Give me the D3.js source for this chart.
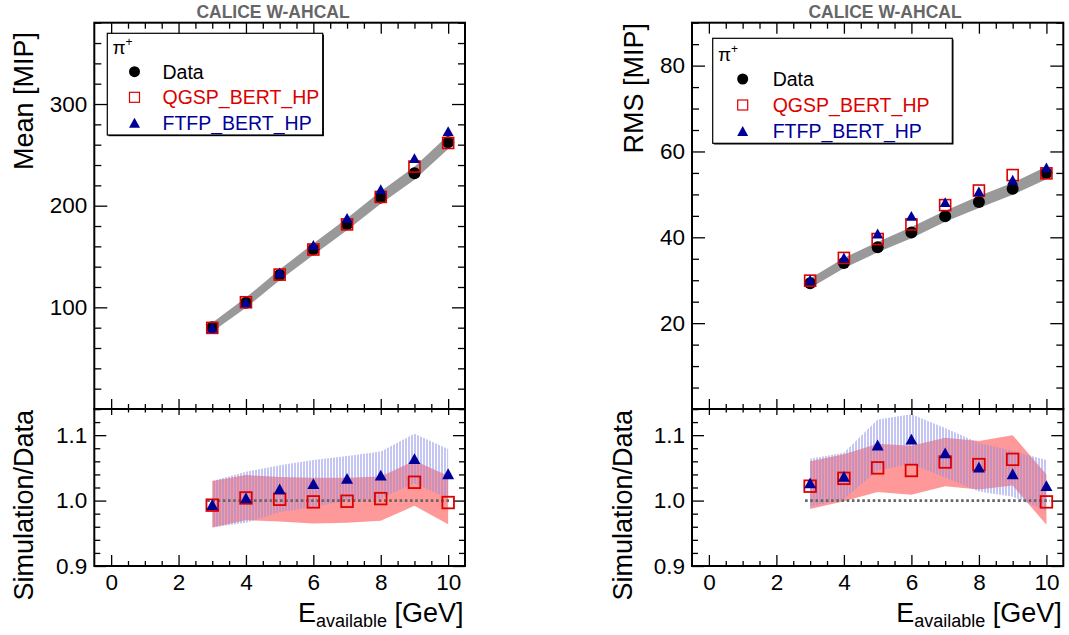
<!DOCTYPE html>
<html><head><meta charset="utf-8">
<script src="https://cdn.jsdelivr.net/npm/d3@7"></script>
<style>
html,body{margin:0;padding:0;background:#fff;}
text{font-family:"Liberation Sans",Arial,Helvetica,sans-serif;}
</style></head>
<body>
<svg id="c" width="1069" height="635"></svg>
<script>
// ---------------- data ----------------
const energies = [3, 4, 5, 6, 7, 8, 9, 10];

// Mean [MIP]
const meanData    = [80.4, 104.6, 131.9, 157.2, 181.8, 208.0, 232.0, 262.5];
const meanDataErr = [4.5, 5.0, 5.3, 5.6, 5.9, 6.2, 6.4, 6.7];
const meanQGSP    = [79.8, 105.0, 132.2, 156.9, 181.6, 208.6, 238.5, 261.7];
const meanFTFP    = [79.9, 105.0, 134.3, 161.3, 188.0, 216.1, 246.8, 273.3];

// RMS [MIP]
const rmsData    = [29.3, 34.0, 37.7, 41.1, 44.9, 48.2, 51.3, 55.0];
const rmsDataErr = [1.1, 1.2, 1.2, 1.3, 1.3, 1.4, 1.4, 1.5];
const rmsQGSP    = [29.9, 35.2, 39.6, 43.0, 47.5, 50.9, 54.5, 54.9];
const rmsFTFP    = [30.1, 35.3, 40.9, 45.0, 48.2, 50.7, 53.4, 56.3];

// Simulation / Data ratios (Mean)
const meanRatioQGSP   = [0.993, 1.004, 1.002, 0.998, 0.999, 1.003, 1.028, 0.997];
const meanRatioQGSPLo = [0.959, 0.970, 0.968, 0.965, 0.966, 0.969, 0.992, 0.964];
const meanRatioQGSPHi = [1.030, 1.039, 1.036, 1.035, 1.035, 1.037, 1.061, 1.038];
const meanRatioFTFP   = [0.994, 1.004, 1.018, 1.026, 1.034, 1.039, 1.064, 1.041];
const meanRatioFTFPLo = [0.959, 0.966, 0.982, 0.990, 1.000, 1.003, 1.026, 1.003];
const meanRatioFTFPHi = [1.030, 1.044, 1.054, 1.062, 1.068, 1.075, 1.102, 1.079];

// Simulation / Data ratios (RMS)
const rmsRatioQGSP   = [1.022, 1.034, 1.050, 1.046, 1.059, 1.055, 1.063, 0.998];
const rmsRatioQGSPLo = [0.987, 0.999, 1.013, 1.009, 1.022, 1.017, 1.023, 0.963];
const rmsRatioQGSPHi = [1.060, 1.071, 1.087, 1.084, 1.096, 1.091, 1.100, 1.040];
const rmsRatioFTFP   = [1.027, 1.037, 1.085, 1.094, 1.073, 1.051, 1.041, 1.023];
const rmsRatioFTFPLo = [0.991, 1.002, 1.046, 1.056, 1.035, 1.014, 1.006, 0.984];
const rmsRatioFTFPHi = [1.064, 1.073, 1.124, 1.132, 1.111, 1.088, 1.076, 1.062];

// axes / labels
const xTicks = [0, 2, 4, 6, 8, 10];
const meanTicks = [100, 200, 300];
const rmsTicks = [20, 40, 60, 80];
const ratioTicks = [0.9, 1.0, 1.1];
const ratioTickLabels = ["0.9", "1.0", "1.1"];
const headerText = "CALICE W-AHCAL";
const legendLabels = ["Data", "QGSP_BERT_HP", "FTFP_BERT_HP"];

// ---------------- drawing ----------------
const svg = d3.select("#c");
const FONT = '"Liberation Sans",Arial,Helvetica,sans-serif';
const RED = "#dd0000", BLUE = "#000099", BAND = "#999999";

const defs = svg.append("defs");
const pat = defs.append("pattern").attr("id","hatch").attr("patternUnits","userSpaceOnUse")
  .attr("width",3).attr("height",4);
pat.append("line").attr("x1",1).attr("x2",1).attr("y1",0).attr("y2",4)
  .attr("stroke","#8c8ce8").attr("stroke-width",1);

const TOP = 22.7, MID = 409, BOT = 566;

const panels = [
  { left: 94.3, right: 465, headerX: 273,
    yDomain: [0, 380], yMajor: meanTicks, yMinorStep: 20, yTitle: "Mean [MIP]",
    yTitleX: 33, yTitleY: 32, rTitleX: 33, rTitleY: 410,
    data: meanData, dataErr: meanDataErr, qgsp: meanQGSP, ftfp: meanFTFP,
    rq: meanRatioQGSP, rqLo: meanRatioQGSPLo, rqHi: meanRatioQGSPHi,
    rf: meanRatioFTFP, rfLo: meanRatioFTFPLo, rfHi: meanRatioFTFPHi,
    legend: {x: 107.3, y: 33.3, w: 215.4, h: 101.7, piX: 112.5, piY: 53.5, mX: 134.5, tX: 162.5, rows: [71.7, 97.3, 122.7]} },
  { left: 692, right: 1063.3, headerX: 885,
    yDomain: [0, 90], yMajor: rmsTicks, yMinorStep: 5, yTitle: "RMS [MIP]",
    yTitleX: 643, yTitleY: 23, rTitleX: 632, rTitleY: 410,
    data: rmsData, dataErr: rmsDataErr, qgsp: rmsQGSP, ftfp: rmsFTFP,
    rq: rmsRatioQGSP, rqLo: rmsRatioQGSPLo, rqHi: rmsRatioQGSPHi,
    rf: rmsRatioFTFP, rfLo: rmsRatioFTFPLo, rfHi: rmsRatioFTFPHi,
    legend: {x: 712.7, y: 38.3, w: 239.6, h: 105, piX: 718, piY: 60.5, mX: 742.7, tX: 772.7, rows: [79, 105, 131]} }
];

function minorVals(d0, d1, step, major){
  return d3.range(d0, d1 + step*0.01, step).filter(v => !major.some(m => Math.abs(m - v) < step*0.01));
}

function styleAxis(g, size){
  g.select(".domain").remove();
  g.selectAll(".tick line").attr("stroke","#000").attr("stroke-width",1.3);
  g.selectAll(".tick text").attr("font-size", size).attr("fill","#000").attr("font-family",FONT);
}

function triPath(cx, cy, s){
  const h = s*0.9;
  return `M${cx-s/2},${cy+h/2}L${cx+s/2},${cy+h/2}L${cx},${cy-h/2}Z`;
}

panels.forEach(p => {
  const x = d3.scaleLinear().domain([-0.5, 10.5]).range([p.left, p.right]);
  const y = d3.scaleLinear().domain(p.yDomain).range([MID, TOP]);
  const yr = d3.scaleLinear().domain([0.9, 1.14]).range([BOT, MID]);
  const xMinor = minorVals(-0.5, 10.5, 0.5, xTicks).filter(v => v > -0.5 && v < 10.5);
  const g = svg.append("g");

  // header
  g.append("text").attr("x", p.headerX).attr("y", 17.5).attr("text-anchor","middle")
    .attr("font-size", 17.5).attr("font-weight","bold").attr("fill","#666").text(headerText);

  // ---- top panel: data band ----
  const area = d3.area().x((d,i) => x(energies[i]))
    .y0((d,i) => y(p.data[i] - p.dataErr[i])).y1((d,i) => y(p.data[i] + p.dataErr[i]));
  g.append("path").attr("d", area(p.data)).attr("fill", BAND);

  // ---- ratio panel bands ----
  const rArea = (lo, hi) => d3.area().x((d,i) => x(energies[i])).y0((d,i) => yr(lo[i])).y1((d,i) => yr(hi[i]))(energies);
  g.append("path").attr("d", rArea(p.rqLo, p.rqHi)).attr("fill", "#ff9999");
  g.append("path").attr("d", rArea(p.rfLo, p.rfHi)).attr("fill", "url(#hatch)");
  g.append("line").attr("x1", x(2.85)).attr("x2", x(10.1)).attr("y1", yr(1.0)).attr("y2", yr(1.0))
    .attr("stroke","#666").attr("stroke-width",2.6).attr("stroke-dasharray","2.6,2.6");

  // ---- axes: top panel ----
  const ax = (gen, tx, ty, vals, size, fmt, font) => {
    const a = g.append("g").attr("transform", `translate(${tx},${ty})`)
      .call(gen.tickValues(vals).tickSize(size).tickPadding(7).tickFormat(fmt));
    styleAxis(a, font || 22.5);
    return a;
  };
  const none = () => "";
  // y left / right
  ax(d3.axisLeft(y), p.left, 0, p.yMajor, -13, d3.format("d"));
  ax(d3.axisLeft(y), p.left, 0, minorVals(p.yDomain[0], p.yDomain[1], p.yMinorStep, p.yMajor), -7, none);
  ax(d3.axisRight(y), p.right, 0, p.yMajor, -13, none);
  ax(d3.axisRight(y), p.right, 0, minorVals(p.yDomain[0], p.yDomain[1], p.yMinorStep, p.yMajor), -7, none);
  // x top & bottom of top panel
  ax(d3.axisTop(x), 0, TOP, xTicks, -11, none);
  ax(d3.axisTop(x), 0, TOP, xMinor, -6, none);
  ax(d3.axisBottom(x), 0, MID, xTicks, -10, none);
  ax(d3.axisBottom(x), 0, MID, xMinor, -5, none);

  // ---- axes: ratio panel ----
  const rMinor = minorVals(0.9, 1.14, 0.02, ratioTicks);
  ax(d3.axisLeft(yr), p.left, 0, ratioTicks, -12, (d,i) => ratioTickLabels[i]);
  ax(d3.axisLeft(yr), p.left, 0, rMinor, -6, none);
  ax(d3.axisRight(yr), p.right, 0, ratioTicks, -12, none);
  ax(d3.axisRight(yr), p.right, 0, rMinor, -6, none);
  ax(d3.axisTop(x), 0, MID, xTicks, -6, none);
  ax(d3.axisTop(x), 0, MID, xMinor, -3.5, none);
  ax(d3.axisBottom(x), 0, BOT, xTicks, -11, d3.format("d")).selectAll(".tick text").attr("dy","0.71em").attr("y", 8);
  ax(d3.axisBottom(x), 0, BOT, xMinor, -5, none);

  // frames
  g.append("rect").attr("x", p.left).attr("y", TOP).attr("width", p.right - p.left).attr("height", MID - TOP)
    .attr("fill","none").attr("stroke","#000").attr("stroke-width",2);
  g.append("rect").attr("x", p.left).attr("y", MID).attr("width", p.right - p.left).attr("height", BOT - MID)
    .attr("fill","none").attr("stroke","#000").attr("stroke-width",2);

  // ---- markers: top panel ----
  g.selectAll(null).data(p.data).enter().append("circle")
    .attr("cx", (d,i) => x(energies[i])).attr("cy", d => y(d)).attr("r", 6).attr("fill","#000");
  g.selectAll(null).data(p.qgsp).enter().append("rect")
    .attr("x", (d,i) => x(energies[i]) - 5.5).attr("y", d => y(d) - 5.5).attr("width", 11).attr("height", 11)
    .attr("fill","none").attr("stroke", RED).attr("stroke-width", 1.6);
  g.selectAll(null).data(p.ftfp).enter().append("path")
    .attr("d", (d,i) => triPath(x(energies[i]), y(d), 11)).attr("fill", BLUE);

  // ---- markers: ratio panel ----
  g.selectAll(null).data(p.rq).enter().append("rect")
    .attr("x", (d,i) => x(energies[i]) - 5.8).attr("y", d => yr(d) - 5.8).attr("width", 11.6).attr("height", 11.6)
    .attr("fill","none").attr("stroke", RED).attr("stroke-width", 1.8);
  g.selectAll(null).data(p.rf).enter().append("path")
    .attr("d", (d,i) => triPath(x(energies[i]), yr(d), 12)).attr("fill", BLUE);

  // ---- axis titles ----
  g.append("text").attr("transform", `translate(${p.yTitleX},${p.yTitleY}) rotate(-90)`)
    .attr("text-anchor","end").attr("font-size", 27).attr("fill","#000").text(p.yTitle);
  g.append("text").attr("transform", `translate(${p.rTitleX},${p.rTitleY}) rotate(-90)`)
    .attr("text-anchor","end").attr("font-size", 27).attr("fill","#000").text("Simulation/Data");
  const xt = g.append("text").attr("x", p.right - 1.5).attr("y", 621.5).attr("text-anchor","end")
    .attr("font-size", 27).attr("fill","#000");
  xt.append("tspan").text("E");
  xt.append("tspan").attr("font-size", 18).attr("dy", 5).text("available");
  xt.append("tspan").attr("dy", -5).text(" [GeV]");

  // ---- legend ----
  const L = p.legend;
  g.append("rect").attr("x", L.x + 1.2).attr("y", L.y + 1.2).attr("width", L.w).attr("height", L.h).attr("fill","#000");
  g.append("rect").attr("x", L.x).attr("y", L.y).attr("width", L.w).attr("height", L.h)
    .attr("fill","#fff").attr("stroke","#000").attr("stroke-width",1.2);
  const pi = g.append("text").attr("x", L.piX).attr("y", L.piY).attr("font-size", 19).attr("fill","#000");
  pi.append("tspan").text("π");
  pi.append("tspan").attr("font-size", 12).attr("dy", -8).text("+");
  g.append("circle").attr("cx", L.mX).attr("cy", L.rows[0]).attr("r", 5.5).attr("fill","#000");
  g.append("rect").attr("x", L.mX - 5).attr("y", L.rows[1] - 5).attr("width", 10).attr("height", 10)
    .attr("fill","none").attr("stroke", RED).attr("stroke-width", 1.2);
  g.append("path").attr("d", triPath(L.mX, L.rows[2], 11)).attr("fill", BLUE);
  const colors = ["#000", RED, BLUE];
  legendLabels.forEach((t, i) => {
    g.append("text").attr("x", L.tX).attr("y", L.rows[i] + 6.8).attr("font-size", 19.5)
      .attr("fill", colors[i]).text(t);
  });
});
</script>
</body></html>
